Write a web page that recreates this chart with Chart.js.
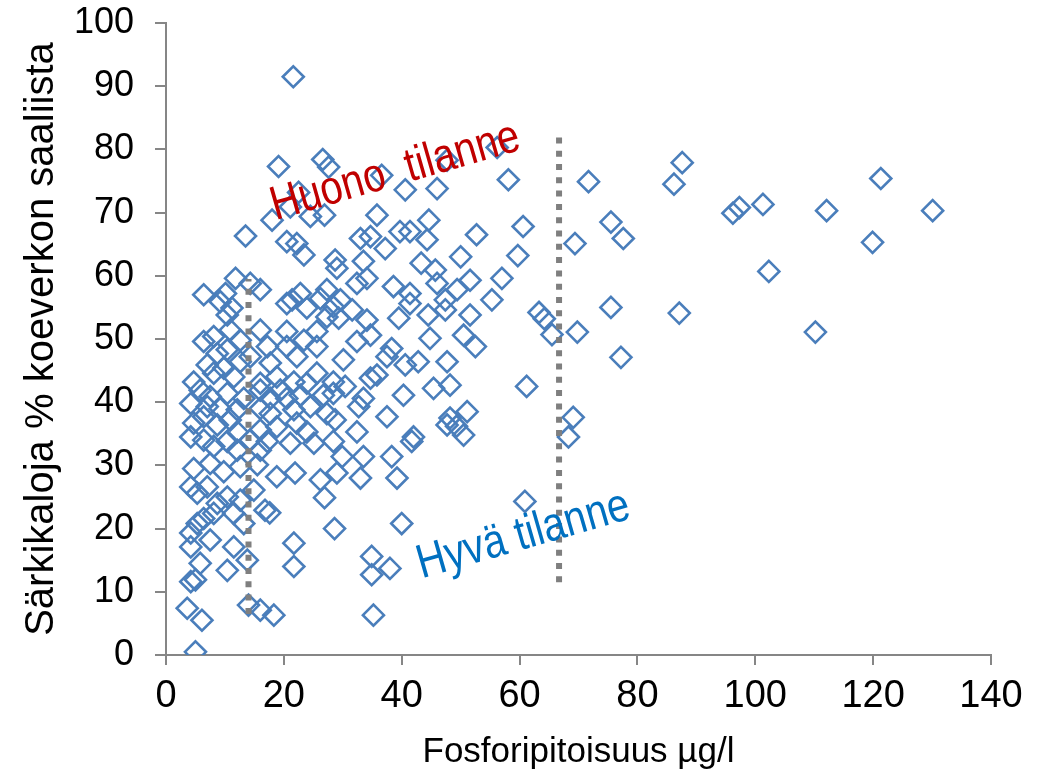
<!DOCTYPE html>
<html>
<head>
<meta charset="utf-8">
<script src="https://cdn.jsdelivr.net/npm/chart.js@4/dist/chart.umd.min.js"></script>
<style>
html,body{margin:0;padding:0;background:#ffffff;}
#wrap{width:1046px;height:772px;}
</style>
</head>
<body>
<div id="wrap"><canvas id="c" width="1046" height="772"></canvas></div>
<script>
// Phosphorus (µg/l) of each sample
const phosphorus = [
21.6,19.1,26.6,27.6,22.5,21.1,18.0,13.5,24.5,26.9,20.5,22.2,23.4,28.7,56.2,58.1,47.7,36.6,40.6,46.0,
35.8,33.0,34.7,37.2,39.7,41.4,44.6,44.3,52.7,60.6,50.0,59.7,33.5,43.3,
29.0,34.1,32.4,38.6,41.4,45.7,46.0,51.6,49.4,47.4,57.0,55.3,29.6,31.6,29.3,34.1,39.5,41.4,44.5,47.4,51.6,
34.7,32.4,44.8,50.5,52.5,63.3,64.2,65.5,69.8,30.1,38.3,37.5,40.6,42.8,47.7,35.8,34.7,30.4,28.4,
45.4,48.2,61.2,40.3,33.5,32.7,37.5,28.7,32.4,42.0,47.7,48.2,51.1,50.5,49.3,29.9,33.5,38.3,41.7,
29.0,33.0,39.2,26.9,28.6,40.0,60.9,34.9,34.9,38.0,35.2,
87.6,86.2,71.7,75.5,77.6,69.4,96.2,97.3,75.5,87.1,77.2,69.1,68.3,101.3,112.1,121.3,130.1,119.9,102.3,110.2,
11.8,6.4,10.1,16.0,14.3,11.2,10.4,9.2,20.5,22.8,21.4,23.9,26.2,27.3,28.4,20.5,16.0,6.4,8.1,10.9,12.6,
23.4,25.6,27.3,25.6,22.2,20.5,17.2,17.7,14.3,10.4,8.7,7.0,4.7,5.8,8.1,9.8,11.5,12.6,16.0,16.0,18.8,
19.4,21.7,23.9,25.6,28.4,26.7,22.8,20.5,17.7,13.2,10.4,7.5,4.2,7.0,9.2,12.1,16.0,17.7,21.7,24.5,27.3,
4.7,6.4,8.7,10.9,12.1,16.0,18.8,22.2,23.9,4.2,6.4,8.1,10.4,14.3,17.2,21.1,25.1,28.4,
12.1,16.0,4.7,7.5,9.8,12.6,15.5,18.8,21.9,26.2,4.2,5.3,7.0,8.7,10.4,12.6,14.9,16.8,17.6,
6.4,8.1,11.5,13.2,4.2,5.3,7.5,4.2,11.5,5.8,10.4,13.8,21.7,21.7,4.2,5.0,3.6,6.1,14.0,16.0,18.3,5.0
];
// Share of cyprinids in the test-net catch (%)
const cyprinidShare = [
91.5,77.3,78.4,77.2,73.2,70.9,68.8,66.3,69.4,69.6,65.4,65.1,63.3,62.5,80.3,75.2,78.3,75.9,73.6,73.8,
69.6,65.9,66.2,64.3,67.0,67.0,68.8,65.7,66.5,67.8,63.0,63.2,62.3,62.0,
61.2,59.6,58.8,58.3,57.2,60.9,58.8,59.3,57.8,56.2,59.6,56.2,56.2,54.6,53.3,53.0,53.3,55.6,53.8,54.6,53.8,
50.6,49.6,50.1,50.6,48.8,54.2,53.2,50.7,51.1,46.7,48.5,47.2,45.9,46.4,46.4,44.3,43.8,42.5,43.2,
42.2,42.7,42.5,41.1,40.6,39.3,37.7,37.2,35.3,34.5,36.4,37.5,38.5,34.8,36.2,31.4,31.4,31.4,33.8,
28.8,28.0,28.0,24.9,20.0,20.8,24.3,15.6,12.7,13.7,6.3,
77.9,74.5,74.9,68.5,65.9,65.1,69.9,70.8,55.0,54.1,47.1,37.6,34.5,71.3,70.3,75.4,70.3,65.3,60.7,51.1,
59.6,57.0,57.2,57.8,58.8,54.9,53.8,55.9,55.6,57.2,56.2,54.9,56.4,57.8,55.1,51.2,51.4,49.6,50.4,51.4,49.8,
49.8,51.2,53.5,48.8,47.2,48.8,48.8,46.2,47.2,48.3,47.7,45.9,43.2,41.9,44.6,45.4,44.0,46.4,43.0,41.9,44.0,
41.9,43.2,43.0,44.6,41.4,41.1,41.1,40.6,40.6,40.6,41.4,40.9,39.8,39.3,39.0,38.8,39.0,38.2,38.8,39.3,38.2,
36.7,37.7,36.4,37.2,35.3,35.6,36.1,36.7,35.3,34.5,34.0,33.0,33.8,34.0,33.8,33.5,33.5,33.8,
32.4,32.4,29.5,30.3,29.0,29.8,30.1,28.2,28.8,27.7,26.6,25.6,26.6,24.0,25.0,24.5,26.1,22.9,22.5,
21.6,22.4,22.4,20.8,19.3,20.8,18.2,17.1,17.1,14.5,13.4,15.0,17.7,14.0,11.6,11.9,7.4,5.5,7.9,7.1,6.3,0.5
];
// Threshold lines (dotted)
const lowLimitX = [14, 14];
const lowLimitY = [6.5, 59.5];
const highLimitX = [66.7, 66.7];
const highLimitY = [11.5, 82.3];
// Axis ticks
const xTickValues = [0, 20, 40, 60, 80, 100, 120, 140];
const yTickValues = [0, 10, 20, 30, 40, 50, 60, 70, 80, 90, 100];
// Annotation labels
const labelPoor = {text: 'Huono  tilanne', x: 18.6, y: 68.8, color: '#C00000'};
const labelGood = {text: 'Hyvä tilanne', x: 43.4, y: 12.1, color: '#0070C0'};

const points = phosphorus.map((x, i) => ({x: x, y: cyprinidShare[i]}));
const toXY = (xs, ys) => xs.map((x, i) => ({x: x, y: ys[i]}));

const fontFamily = '"Liberation Sans", Arial, sans-serif';
const axisColor = '#868686';

const annotationPlugin = {
  id: 'textLabels',
  afterDatasetsDraw(chart) {
    const ctx = chart.ctx;
    const xs = chart.scales.x, ys = chart.scales.y;
    [labelPoor, labelGood].forEach(l => {
      ctx.save();
      ctx.translate(xs.getPixelForValue(l.x), ys.getPixelForValue(l.y));
      ctx.rotate(-16 * Math.PI / 180);
      ctx.scale(0.83, 1);
      ctx.font = '48px ' + fontFamily;
      ctx.fillStyle = l.color;
      ctx.textAlign = 'left';
      ctx.textBaseline = 'alphabetic';
      ctx.fillText(l.text, 0, 0);
      ctx.restore();
    });
  }
};

new Chart(document.getElementById('c'), {
  type: 'scatter',
  data: {
    datasets: [
      {
        data: toXY(lowLimitX, lowLimitY),
        showLine: true, borderColor: '#7F7F7F', borderWidth: 6, borderDash: [6, 7.3],
        borderCapStyle: 'butt', pointRadius: 0, order: 0
      },
      {
        data: toXY(highLimitX, highLimitY),
        showLine: true, borderColor: '#7F7F7F', borderWidth: 6, borderDash: [6, 7.3],
        borderCapStyle: 'butt', pointRadius: 0, order: 0
      },
      {
        data: points,
        pointStyle: 'rectRot', pointRadius: 10.5, pointHoverRadius: 10.5,
        borderColor: '#4A7EBB', backgroundColor: 'rgba(0,0,0,0)', borderWidth: 2.6,
        order: 1
      }
    ]
  },
  options: {
    responsive: false,
    animation: false,
    devicePixelRatio: 1,
    layout: {padding: {top: 23, right: 55, bottom: 0, left: 0}},
    plugins: {legend: {display: false}, tooltip: {enabled: false}},
    scales: {
      x: {
        type: 'linear', min: 0, max: 140,
        afterBuildTicks: s => { s.ticks = xTickValues.map(v => ({value: v})); },
        afterFit: s => { s.height = 117; s.paddingLeft = 0; s.paddingRight = 0; },
        ticks: {color: '#000', font: {family: fontFamily, size: 38}, padding: 9, maxRotation: 0},
        grid: {drawOnChartArea: false, drawTicks: true, tickLength: 10, color: axisColor, lineWidth: 2},
        border: {display: true, color: axisColor, width: 2},
        title: {display: true, text: 'Fosforipitoisuus µg/l', color: '#000',
                font: {family: fontFamily, size: 35, lineHeight: 1}, padding: {top: 0, bottom: 2}}
      },
      y: {
        type: 'linear', min: 0, max: 100,
        afterBuildTicks: s => { s.ticks = yTickValues.map(v => ({value: v})); },
        afterFit: s => { s.width = 166; s.paddingTop = 0; s.paddingBottom = 0; },
        ticks: {color: '#000', font: {family: fontFamily, size: 36}, padding: 21},
        grid: {drawOnChartArea: false, drawTicks: true, tickLength: 11, color: axisColor, lineWidth: 2},
        border: {display: true, color: axisColor, width: 2},
        title: {display: true, text: 'Särkikaloja % koeverkon saaliista', color: '#000',
                font: {family: fontFamily, size: 40}, padding: {top: 18, bottom: 0}}
      }
    }
  },
  plugins: [annotationPlugin]
});
</script>
</body>
</html>
